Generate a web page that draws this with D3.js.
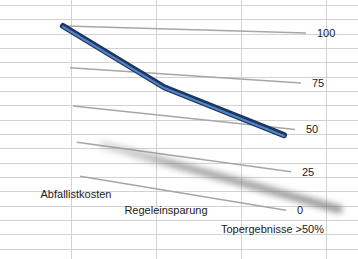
<!DOCTYPE html>
<html>
<head>
<meta charset="utf-8">
<script src="https://cdn.jsdelivr.net/npm/d3@7"></script>
<style>
  body { margin: 0; background: #fff; }
  svg text { font-family: "Liberation Sans", Arial, sans-serif; font-size: 11px; fill: #1a1a1a; }
</style>
</head>
<body>
<div id="chart"></div>
<script>
var width = 358;
var height = 259;

// Chart data
var categories = ["Abfallistkosten", "Regeleinsparung", "Topergebnisse >50%"];
var values = [100, 67, 46];
var ticks = [0, 25, 50, 75, 100];

var svg = d3.select("#chart").append("svg")
    .attr("width", width)
    .attr("height", height);

// Spreadsheet cells behind the chart
var rowScale = d3.scaleLinear().domain([0, 1]).range([4.8, 19.15]);
var colScale = d3.scaleLinear().domain([0, 1]).range([71, 156]);

svg.append("g").selectAll("line")
  .data(d3.range(18))
  .enter().append("line")
    .attr("x1", 0).attr("x2", width)
    .attr("y1", d => Math.round(rowScale(d)) + 0.5)
    .attr("y2", d => Math.round(rowScale(d)) + 0.5)
    .attr("stroke", "#d2d2d2");

svg.append("g").selectAll("line")
  .data(d3.range(4))
  .enter().append("line")
    .attr("y1", 0).attr("y2", height)
    .attr("x1", d => Math.round(colScale(d)) + 0.5)
    .attr("x2", d => Math.round(colScale(d)) + 0.5)
    .attr("stroke", "#d2d2d2");

// Perspective along the category direction (near side on the right)
var depth = -0.155;
function persp(t) { return t * (1 + depth) / (1 + depth * t); }

var tScale = d3.scalePoint().domain(categories).range([0, 1]);

// Ends of the value gridlines on the tilted wall
var leftX = d3.scaleLinear().domain(ticks).range([80, 77, 73, 70, 65]);
var leftY = d3.scaleLinear().domain(ticks).range([176.3, 142.3, 106, 67.7, 26]);
var rightX = d3.scaleLinear().domain(ticks).range([286, 291, 295, 301, 306]);
var rightY = d3.scaleLinear().domain(ticks).range([210.3, 171.7, 129.5, 83, 33]);

// Where a value lands at a given screen x
function valueY(v, x) {
  var u = (x - leftX(v)) / (rightX(v) - leftX(v));
  return leftY(v) + u * (rightY(v) - leftY(v));
}

var lineX = d3.scaleLinear().domain([0, 1]).range([63, 284]);
var labelX = d3.scaleLinear().domain([0, 1]).range([76, 272.5]);
var labelY = d3.scaleLinear().domain([0, 1]).range([194.3, 229]);
var shadowX = d3.scaleLinear().domain([0, 1]).range([100, 342]);
var shadowY = d3.scaleLinear().domain([0, 1]).range([144, 210]);

// Blur for the floor shadow, fading in from the left
var defs = svg.append("defs");
defs.append("filter")
    .attr("id", "blur")
    .attr("x", "-20%").attr("y", "-100%")
    .attr("width", "140%").attr("height", "300%")
  .append("feGaussianBlur")
    .attr("stdDeviation", 3);

var grad = defs.append("linearGradient")
    .attr("id", "shade")
    .attr("gradientUnits", "userSpaceOnUse")
    .attr("x1", 100).attr("x2", 342).attr("y1", 0).attr("y2", 0);
grad.append("stop").attr("offset", "0").attr("stop-color", "#999").attr("stop-opacity", 0.35);
grad.append("stop").attr("offset", "0.3").attr("stop-color", "#888").attr("stop-opacity", 0.8);
grad.append("stop").attr("offset", "1").attr("stop-color", "#777").attr("stop-opacity", 0.85);

// Value gridlines
svg.append("g").selectAll("line")
  .data(ticks)
  .enter().append("line")
    .attr("x1", d => leftX(d)).attr("y1", d => leftY(d))
    .attr("x2", d => rightX(d)).attr("y2", d => rightY(d))
    .attr("stroke", "#a6a6a6")
    .attr("stroke-width", 1.6);

// Value labels
svg.append("g").selectAll("text")
  .data(ticks)
  .enter().append("text")
    .attr("x", d => rightX(d) + 11)
    .attr("y", d => rightY(d))
    .attr("dy", "0.36em")
    .text(d => d);

// Shadow of the line on the floor
var points = categories.map((c, i) => ({ t: persp(tScale(c)), v: values[i] }));

svg.append("path")
  .datum(points)
  .attr("d", d3.line()
    .x(d => shadowX(d.t))
    .y(d => shadowY(d.t))
    .curve(d3.curveMonotoneX))
  .attr("fill", "none")
  .attr("stroke", "url(#shade)")
  .attr("stroke-width", 7)
  .attr("filter", "url(#blur)");

// Category labels
svg.append("g").selectAll("text")
  .data(categories)
  .enter().append("text")
    .attr("x", d => labelX(persp(tScale(d))))
    .attr("y", d => labelY(persp(tScale(d))))
    .attr("dy", "0.36em")
    .attr("text-anchor", "middle")
    .text(d => d);

// The line as a ribbon: dark edge with a blue face
var line = d3.line()
  .x(d => lineX(d.t))
  .y(d => valueY(d.v, lineX(d.t)));

svg.append("path")
  .datum(points)
  .attr("d", line)
  .attr("fill", "none")
  .attr("stroke", "#1d3560")
  .attr("stroke-width", 6)
  .attr("stroke-linejoin", "round")
  .attr("stroke-linecap", "round");

svg.append("path")
  .datum(points)
  .attr("d", line)
  .attr("transform", "translate(0,0.8)")
  .attr("fill", "none")
  .attr("stroke", "#4f86c8")
  .attr("stroke-width", 2.2)
  .attr("stroke-linejoin", "round")
  .attr("stroke-linecap", "round");
</script>
</body>
</html>
